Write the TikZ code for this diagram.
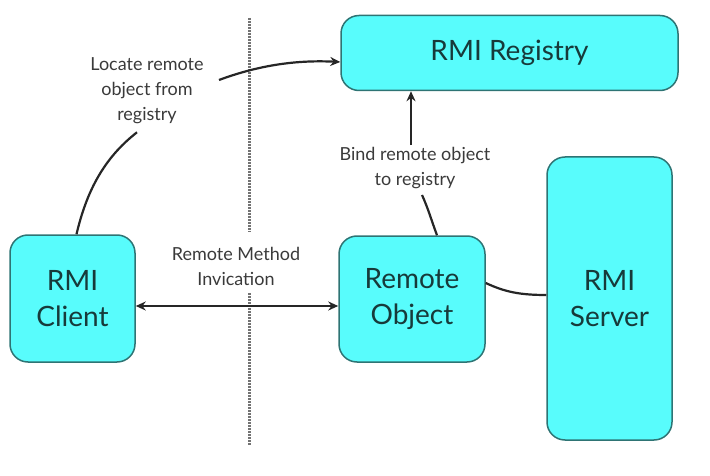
\documentclass[tikz,border=0pt]{standalone}
\usepackage{fontspec}
\setmainfont{Lato}
\usetikzlibrary{arrows.meta}
\definecolor{boxfill}{HTML}{58FCFC}
\definecolor{boxline}{HTML}{2E7474}
\definecolor{boxtext}{HTML}{173A3A}
\definecolor{labtext}{HTML}{3A3A3A}
\begin{document}
\begin{tikzpicture}[x=1pt,y=-1pt,
  box/.style={draw=boxline, fill=boxfill, line width=1.5pt, rounded corners=18pt,
    align=center, text=boxtext, font=\fontsize{28}{36}\selectfont, inner sep=0pt},
  lab/.style={align=center, text=labtext, font=\fontsize{18}{25}\selectfont, inner sep=2pt},
  conn/.style={line width=2.2pt, black!85},
  sep/.style={black!55, line width=3pt, dash pattern=on 1.8pt off 1.2pt},
  tip/.style={-{Stealth[length=10pt,width=9pt]}}
]
\useasboundingbox (0,0) rectangle (710,476);
% separator
\draw[sep] (249,18) -- (249,232);
\draw[sep] (249,293) -- (249,445);
% boxes
\node[box, minimum width=337pt, minimum height=75pt] (reg) at (509.5,53) {RMI Registry};
\node[box, minimum width=125pt, minimum height=127pt] (cli) at (72.5,298.5) {RMI\\Client};
\node[box, minimum width=146pt, minimum height=126pt] (robj) at (412,299) {Remote\\Object};
\node[box, minimum width=125pt, minimum height=283pt] (srv) at (609.5,298.5) {RMI\\Server};
% labels
\node[lab] (loc) at (147,91) {Locate remote\\object from\\registry};
\node[lab] (bind) at (415,168) {Bind remote object\\to registry};
\node[lab] (rmi) at (236,266) {Remote Method\\Invication};
% connectors
\coordinate (ay) at (0,306);
\draw[conn, {Stealth[length=10pt,width=9pt]}-{Stealth[length=10pt,width=9pt]}] (cli.east |- ay) -- (robj.west |- ay);
\draw[conn] ([xshift=4pt]cli.north) .. controls (88,185) and (108,155) .. ([xshift=-10pt,yshift=-6pt]loc.south);
\coordinate (locend) at (219,80);
\draw[conn, tip] (locend) .. controls (262,64) and (300,60) .. (reg.west |- 0,62);
\draw[conn, tip] ([xshift=-4pt]bind.north) -- ([xshift=-4pt]bind.north |- reg.south);
\draw[conn] ([xshift=25pt]robj.north) .. controls (432,222) and (428,208) .. ([xshift=7pt,yshift=-4pt]bind.south);
\draw[conn] (robj.east |- 0,283) .. controls (505,292) and (520,295) .. (srv.west |- 0,295);
\end{tikzpicture}
\end{document}
